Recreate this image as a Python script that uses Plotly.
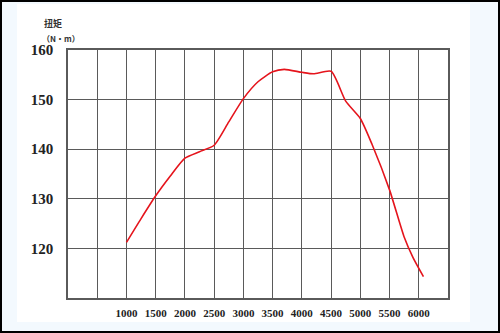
import plotly.graph_objects as go

# Engine speed (rpm) and torque (N·m)
rpm = [1000, 1250, 1500, 1750, 2000, 2250, 2500, 2750, 3000, 3250, 3500, 3700,
       4000, 4200, 4500, 4750, 5000, 5200, 5500, 5750, 5900, 6080]
torque = [121.2, 126.0, 130.6, 134.6, 138.2, 139.5, 140.8, 145.5, 150.2, 153.6,
          155.6, 156.1, 155.5, 155.2, 155.7, 149.7, 146.2, 141.0, 131.8, 122.3,
          118.2, 114.3]

x_tickvals = [0, 500, 1000, 1500, 2000, 2500, 3000, 3500, 4000, 4500, 5000, 5500, 6000, 6500]
x_ticktext = ["", "", "1000", "1500", "2000", "2500", "3000", "3500", "4000",
              "4500", "5000", "5500", "6000", ""]
y_tickvals = [110, 120, 130, 140, 150, 160]
y_ticktext = ["", "120", "130", "140", "150", "160"]

y_title_lines = ["扭矩", "（N・m）"]

grid_col = "#5a5a5a"
serif = "Liberation Serif, DejaVu Serif, serif"

# plot area in pixels: x 68..448, y 50..298
PW, PH = 380.0, 248.0
def px(x):
    return (x - 68) / PW
def py(y):
    return (298 - y) / PH

fig = go.Figure()
fig.add_trace(go.Scatter(
    x=rpm, y=torque, mode="lines",
    line=dict(color="#e5141c", width=1.6, shape="spline", smoothing=0.6),
    hoverinfo="skip", showlegend=False,
))

fig.update_layout(
    width=500, height=333,
    margin=dict(l=68, r=52, t=50, b=35),
    paper_bgcolor="#f3f9fe",
    plot_bgcolor="white",
    xaxis=dict(
        range=[0, 6500], tickmode="array", tickvals=x_tickvals, ticktext=x_ticktext,
        showgrid=True, gridcolor=grid_col, gridwidth=1.3,
        showline=True, linecolor=grid_col, linewidth=1.5, mirror=True,
        ticks="", zeroline=False,
        tickfont=dict(family=serif, size=11, color="#222", weight="bold"),
        ticklabelstandoff=4,
    ),
    yaxis=dict(
        range=[110, 160], tickmode="array", tickvals=y_tickvals, ticktext=y_ticktext,
        showgrid=True, gridcolor=grid_col, gridwidth=1.3,
        showline=True, linecolor=grid_col, linewidth=1.5, mirror=True,
        ticks="", zeroline=False,
        tickfont=dict(family=serif, size=15, color="#222", weight="bold"),
        ticklabelstandoff=10,
    ),
    shapes=[
        dict(type="rect", xref="paper", yref="paper", layer="below",
             x0=px(17), x1=px(470), y0=py(322), y1=py(4),
             fillcolor="white", line=dict(width=0)),
        dict(type="rect", xref="paper", yref="paper", layer="above",
             x0=px(1), x1=px(499), y0=py(332), y1=py(1),
             fillcolor="rgba(0,0,0,0)", line=dict(color="black", width=2)),
    ],
    annotations=[
        dict(text="<b>" + y_title_lines[0] + "</b>", xref="paper", yref="paper",
             x=px(42), y=py(15), showarrow=False,
             font=dict(family="Noto Sans CJK SC", size=9, color="#333")),
        dict(text="<b>" + y_title_lines[1] + "</b>", xref="paper", yref="paper",
             x=px(40), y=py(31), showarrow=False,
             font=dict(family="Noto Sans CJK SC", size=8, color="#333")),
    ],
)

fig.write_html("out.html", config={"displayModeBar": False},
               post_script="document.body.style.margin='0';")
